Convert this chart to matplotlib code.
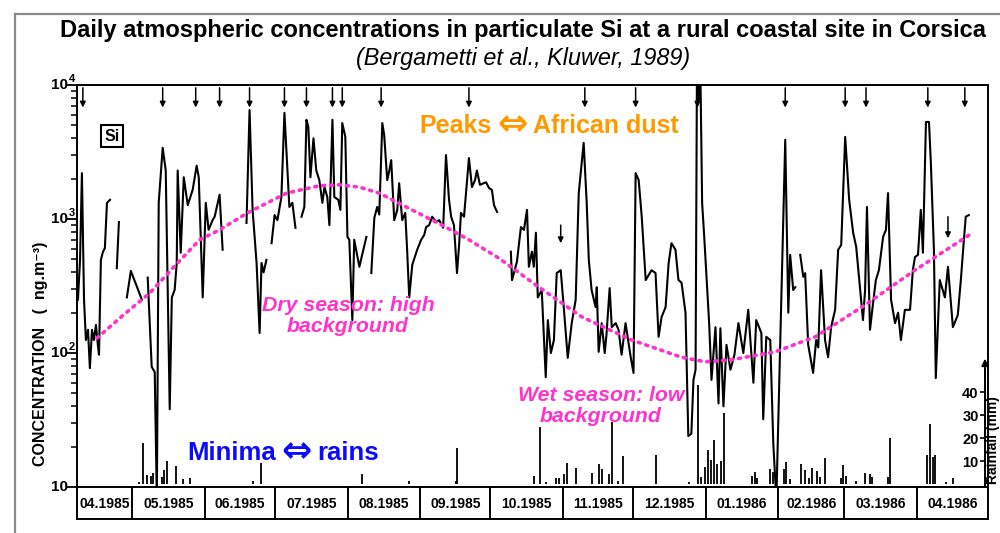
import numpy as np
import matplotlib
matplotlib.use('Agg')
import matplotlib.pyplot as plt
from matplotlib import font_manager as fm
from matplotlib.lines import Line2D
from matplotlib.transforms import blended_transform_factory as btf

plt.rcParams['font.family'] = ['Liberation Sans', 'DejaVu Sans']

nan = np.nan
# ---------------- data ----------------
# days counted from 1 April 1985 ; Si concentration in ng/m3
si_days = [6.8, 7.7, 8.5, 9.4, 10.2, 11.1, 11.9, 12.8, 13.6, 14.5, 15.3, 15.8, 16.6, 17.5, 18.3, 19.2, 20.5, nan,
           23.4, 24.3, nan,
           27.7, 29.4, 34.1, nan,
           36.6, 38.3, 39.6, 40.5, 41.3, 43.0, 44.3, 46.0, 46.9, 48.1, 49.0, 49.4, 50.7, 52.0, 53.7,
           55.8, 57.5, 58.4, 60.1, 61.4, 62.6, 64.3, 65.2, 67.3, 68.6, nan,
           78.8, 80.1, 81.4, 83.1, 84.4, 85.2, 86.1, 87.3, nan,
           89.5, 90.8, 92.0, 93.7, 95.0, 97.1, 98.4, 99.7, nan,
           102.3, 103.5, 104.4, 105.2, 106.1, 107.4, 108.6, 109.9, 111.2, 112.1, 113.3, 114.2, 115.5,
           116.3, 118.0, 118.9, 119.7, 121.0, 121.9, 122.7, 124.0, 124.8, 127.0, 128.7, 130.0, nan,
           132.1, 133.4, 134.6, 135.5, 136.8, 137.6, 138.9, 139.8, 140.6, 141.9, 143.2, 144.0, 145.3,
           146.6, 147.4, 148.3, 149.6, 151.7, 153.4, 154.7, 155.5, 156.8, 158.1, 159.8, 161.1, 162.8,
           164.0, 165.3, 166.2, 167.4, 168.7, 169.6, 170.4, 171.7, 173.8, 175.1, 176.4, 177.2, 178.5,
           181.1, 182.4, 183.6, 184.5, 185.8, nan,
           191.7, 192.2, 194.3, 196.0, 197.3, 198.6, 199.4, 200.7, 201.5, 202.4,
           203.2, 204.9, 206.6, 207.5, 208.8, 210.1, 211.3, 213.0, 214.3, 216.0,
           217.7, 219.4, 220.7, 222.8, 224.1, 225.0, 226.2, 227.9, 228.4, 229.2,
           230.5, 231.8, 232.6, 233.9, 234.8, 236.5, 237.7, 239.0, 240.7, 242.9,
           244.1, 245.0, 246.3, 247.6, 249.3, 250.5, 251.8, 253.5, 254.8, 256.1,
           257.8, 259.1, 260.3, 262.0, 263.3, 264.6, 266.3, 267.5, 268.8, 269.7,
           270.6, 271.2, 271.9, 272.6, 273.4, 274.3, 276.4, 277.4, 279.1, 280.4,
           281.2, 282.5, 283.8, 285.5, 287.2, 288.9,
           291.0, 293.1, 295.3, 296.5, 298.7, 299.5, 300.8, 302.5, 303.8, 305.1,
           308.9, 310.2, 311.0, 312.3, 313.2, nan,
           315.3, 316.6, 317.4, 318.7, 320.8, 322.1, 323.0, 324.2, 325.9, 327.2,
           328.5, 330.2, 331.5, 332.8, 334.5, 336.2, 337.9, 339.2, 340.9, 342.1,
           343.0, 343.8, 345.1, 346.4, 347.6, 348.9, 350.7, 351.9, 352.8, 354.1,
           355.8, 357.1, 358.3, 360.0, 362.2, 363.4, 364.3, 365.6, 366.8, 367.7,
           369.0, 370.3, 371.1, 372.4, 373.2, 374.9, 377.1, 378.4, 380.5, 382.6,
           383.9, 385.2, 386.0, 387.3]
si_vals = [250, 495, 2200, 250, 125, 149, 77, 149, 125, 162, 115, 97, 495, 570, 605, 1320, 1390, nan,
           430, 950, nan,
           260, 410, 250, nan,
           365, 79, 72, 8, 1320, 3400, 2300, 38, 260, 295, 470, 2300, 560, 2050, 1270,
           1650, 2500, 2050, 260, 1320, 830, 980, 1040, 1520, 590, nan,
           935, 6500, 1170, 470, 141, 470, 400, 495, nan,
           660, 1070, 980, 1460, 6200, 1230, 1320, 860, nan,
           1040, 1230, 5500, 4860, 2050, 4000, 2300, 1950, 1320, 1730, 1460, 900, 5500,
           1460, 1390, 1170, 5200, 4100, 735, 700, 176, 700, 440, 590, 735, nan,
           395, 1020, 1230, 1080, 5200, 4240, 1950, 2300, 2750, 980, 1170, 1850, 980,
           1110, 590, 260, 455, 590, 700, 760, 870, 900, 1040, 950, 980, 860,
           3000, 1390, 1040, 900, 395, 640, 1110, 1040, 2850, 1730, 1950, 2300, 1800,
           1880, 1700, 1650, 1270, 1130, nan,
           570, 350, 480, 870, 830, 1170, 440, 570, 440, 790,
           260, 295, 66, 176, 100, 125, 395, 415, 220, 92,
           167, 250, 1560, 3700, 1320, 495, 295, 220, 310, 102,
           167, 100, 141, 305, 156, 167, 149, 97, 167, 93,
           71, 2200, 1950, 1040, 350, 380, 415, 395, 132, 186,
           220, 470, 660, 590, 350, 335, 200, 24, 25, 63,
           75, 15000, 7700, 15000, 1320, 735, 167, 63, 156, 42,
           153, 40, 115, 75, 97, 167,
           100, 210, 60, 176, 141, 32, 132, 125, 21, 8,
           3900, 200, 540, 295, 310, nan,
           540, 370, 395, 115, 71, 125, 110, 415, 125, 93,
           156, 210, 590, 640, 4100, 1390, 790, 620, 295, 176,
           295, 1230, 149, 235, 350, 415, 735, 830, 1560, 250,
           167, 200, 125, 210, 210, 415, 520, 540, 1170, 560,
           5300, 5300, 2600, 590, 65, 350, 260, 440, 156, 192,
           350, 700, 1040, 1070]

# seasonal background (hand-drawn dotted curve)
bg_days = [14.9, 26.2, 37.5, 48.1, 58.8, 67.3, 79.2, 95.9, 109.9, 118.4,
           127.0, 135.5, 147.0, 162.3, 173.8, 186.6, 203.7, 222.0, 243.3, 264.6,
           274.8, 285.9, 304.6, 321.7, 343.0, 364.3, 389.0]
bg_vals = [129, 192, 280, 445, 700, 830, 1110, 1560, 1770, 1800,
           1730, 1560, 1230, 900, 700, 510, 310, 186, 125, 93,
           86, 89, 102, 132, 228, 415, 790]

# daily rainfall (mm)
rain_days = [32.8, 34.5, 36.2, 37.9, 38.8, 42.6, 43.5, 44.7, 48.6, 51.6,
             54.5, 81.4, 84.8, 128.2, 148.3, 168.3, 168.9, 201.5, 204.1, 206.6,
             210.9, 212.2, 214.3, 215.6, 219.4, 226.2, 229.2, 230.5, 233.5, 234.8,
             237.3, 239.5, 253.9, 268.0, 271.8, 273.1, 274.8, 275.7, 277.0, 278.6,
             279.9, 281.6, 282.9, 294.8, 296.1, 297.0, 302.5, 303.8, 308.5, 309.3,
             311.0, 315.7, 317.4, 319.1, 320.4, 322.5, 323.8, 326.0, 332.8, 333.6,
             334.9, 339.2, 343.0, 345.1, 346.0, 352.8, 353.7, 369.4, 370.7, 372.0,
             372.8, 377.5, 380.5]
rain_mm = [1, 17.7, 4, 3.6, 4.6, 2.9, 6.2, 9.9, 7.7, 2.2,
           2.5, 1.3, 9, 4.5, 1.3, 1.3, 15.5, 3.5, 25, 1,
           2.5, 2.5, 4.3, 9, 7, 5, 8.7, 6.5, 4.3, 27,
           1.3, 12, 12.6, 1, 43, 3, 7.4, 15, 10.4, 19,
           8.7, 10, 31, 3.5, 5.2, 2.6, 6.5, 5.2, 6.5, 9.6,
           2.2, 8.7, 6, 2.6, 7, 5.6, 3, 11.3, 2.6, 8.3,
           3.5, 1.3, 4.8, 4.3, 3, 3, 20, 12.6, 26, 11.7,
           12.6, 1, 2.6]

# African dust events (arrows)
dust_days = [8.9, 43.0, 57.1, 67.3, 80.1, 95.0, 104.4, 115.5, 119.7, 136.3,
             173.8, 223.3, 245.0, 271.4, 308.9, 334.5, 343.4, 369.8, 385.6]
low_arrow_days = [213.0, 378.4]
low_arrow_top = [900, 1040]
low_arrow_tip = [660, 720]

month_starts = [30, 61, 91, 122, 153, 183, 214, 244, 275, 306, 334, 365]
month_labels = ['04.1985', '05.1985', '06.1985', '07.1985', '08.1985', '09.1985', '10.1985',
                '11.1985', '12.1985', '01.1986', '02.1986', '03.1986', '04.1986']
xmin, xmax = 6.4, 395.5

ytick_vals = [10, 100, 1000, 10000]
ytick_base = ['10', '10', '10', '10']
ytick_exp = ['', '2', '3', '4']
rain_ticks = [10, 20, 30, 40]

title = 'Daily atmospheric concentrations in particulate Si at a rural coastal site in Corsica'
subtitle = '(Bergametti et al., Kluwer, 1989)'

MAG = '#ff33cc'
ORANGE = '#ff9900'
BLUE = '#0a0aff'
ARROW = '\u21d4'

# ---------------- figure ----------------
W, H = 1000, 533
fig = plt.figure(figsize=(W / 100, H / 100), dpi=100)
def fx(px): return px / W
def fy(py): return 1 - py / H

ax = fig.add_axes([fx(77), fy(487), (988 - 77) / W, (487 - 85) / H])
ax.set_yscale('log')
ax.set_ylim(10, 1e4)
ax.set_xlim(xmin, xmax)
ax.set_xticks([])
ax.set_yticks(ytick_vals)
ax.set_yticklabels([])
ax.yaxis.set_minor_locator(matplotlib.ticker.LogLocator(base=10, subs=np.arange(2, 10)))
ax.yaxis.set_minor_formatter(matplotlib.ticker.NullFormatter())
ax.tick_params(axis='y', which='major', direction='out', length=7, width=1.3)
ax.tick_params(axis='y', which='minor', direction='out', length=4.5, width=1.1)
for s in ax.spines.values():
    s.set_linewidth(1.4)

ax.plot(si_days, si_vals, color='black', lw=1.5)
ax.plot(bg_days, bg_vals, color=MAG, lw=2.6, linestyle=(0, (0.6, 1.6)),
        dash_capstyle='round', zorder=3)

ytf = ax.get_yaxis_transform()
for v, b, e in zip(ytick_vals, ytick_base, ytick_exp):
    ax.annotate(b, xy=(0, v), xycoords=ytf, xytext=(-6.5, 0), textcoords='offset points',
                ha='right', va='center', fontsize=11, fontweight='bold')
    if e:
        ax.annotate(e, xy=(0, v), xycoords=ytf, xytext=(-6.0, 4.0), textcoords='offset points',
                    ha='left', va='center', fontsize=8, fontweight='bold')

xtf = ax.get_xaxis_transform()
for d in dust_days:
    ax.annotate('', xy=(d, 0.944), xytext=(d, 0.993), xycoords=xtf,
                arrowprops=dict(arrowstyle='-|>', color='black', lw=1.1, mutation_scale=8,
                                shrinkA=0, shrinkB=0))
for d, t0, t1 in zip(low_arrow_days, low_arrow_top, low_arrow_tip):
    ax.annotate('', xy=(d, t1), xytext=(d, t0),
                arrowprops=dict(arrowstyle='-|>', color='black', lw=1.1, mutation_scale=8,
                                shrinkA=0, shrinkB=0))

ax.text(0.0385, 0.873, 'Si', transform=ax.transAxes, ha='center', va='center', fontsize=11.5,
        fontweight='bold', bbox=dict(boxstyle='square,pad=0.22', fc='white', ec='black', lw=1.5))

# ---------------- rainfall ----------------
axr = ax.twinx()
axr.set_ylim(-1.3, 173.5)
axr.vlines(rain_days, 0, rain_mm, color='black', lw=1.3)
for k in ['top', 'right', 'bottom']:
    axr.spines[k].set_visible(False)
rx = (985 - 77) / (988 - 77)
axr.spines['left'].set_position(('axes', rx))
axr.spines['left'].set_bounds(-1.3, 50)
axr.spines['left'].set_linewidth(1.4)
axr.yaxis.set_ticks_position('left')
axr.yaxis.set_label_position('left')
axr.set_yticks(rain_ticks)
axr.set_yticklabels([str(t) for t in rain_ticks], fontsize=10.5, fontweight='bold')
axr.tick_params(axis='y', direction='out', length=3.5, width=1.2, pad=1)
axr.annotate('', xy=(rx, 54.5), xytext=(rx, 46),
             xycoords=btf(axr.transAxes, axr.transData),
             arrowprops=dict(arrowstyle='-|>', color='black', lw=1.3, mutation_scale=10,
                             shrinkA=0, shrinkB=0))

# ---------------- month boxes ----------------
axm = fig.add_axes([fx(77), fy(519), (988 - 77) / W, (519 - 487) / H])
axm.set_xlim(xmin, xmax)
axm.set_ylim(0, 1)
axm.set_xticks([])
axm.set_yticks([])
for s in axm.spines.values():
    s.set_linewidth(1.4)
axm.vlines(month_starts, 0, 1, color='black', lw=1.4)
edges = [xmin] + month_starts + [xmax]
for i, lab in enumerate(month_labels):
    axm.text((edges[i] + edges[i + 1]) / 2, 0.48, lab, ha='center', va='center',
             fontsize=10, fontweight='bold')

# ---------------- texts ----------------
fig.text(fx(41), fy(354), 'CONCENTRATION   (  ng.m\u207b\u00b3)', rotation=90, ha='center',
         va='center', fontsize=11.5, fontweight='bold')
fig.text(fx(993.5), fy(440), 'Rainfall (mm)', rotation=90, ha='center', va='center',
         fontsize=10, fontweight='bold')

# "Peaks <=> African dust"
fig.text(fx(492), fy(126), 'Peaks', color=ORANGE, ha='right', va='center',
         fontsize=18, fontweight='bold')
fig.text(fx(512), fy(125), ARROW, color=ORANGE, ha='center', va='center',
         fontsize=26, fontweight='bold', family='DejaVu Sans')
fig.text(fx(533), fy(126), 'African dust', color=ORANGE, ha='left', va='center',
         fontsize=18, fontweight='bold')
# "Minima <=> rains"
fig.text(fx(276), fy(453), 'Minima', color=BLUE, ha='right', va='center',
         fontsize=18.5, fontweight='bold')
fig.text(fx(296), fy(452), ARROW, color=BLUE, ha='center', va='center',
         fontsize=26, fontweight='bold', family='DejaVu Sans')
fig.text(fx(317), fy(453), 'rains', color=BLUE, ha='left', va='center',
         fontsize=18.5, fontweight='bold')

fig.text(fx(348), fy(316), 'Dry season: high\nbackground', color=MAG, ha='center', va='center',
         fontsize=15.3, fontweight='bold', style='italic', linespacing=1.1)
fig.text(fx(601), fy(406), 'Wet season: low\nbackground', color=MAG, ha='center', va='center',
         fontsize=15.3, fontweight='bold', style='italic', linespacing=1.1)

# title: narrow font if available
tfam = ['Liberation Sans', 'DejaVu Sans']
try:
    fm.findfont(fm.FontProperties(family='Liberation Sans Narrow'), fallback_to_default=False)
    tfam = ['Liberation Sans Narrow', 'Liberation Sans', 'DejaVu Sans']
except Exception:
    pass
t = fig.text(fx(523), fy(31), title, ha='center', va='center', fontsize=16, fontweight='bold',
             family=tfam)
st = fig.text(fx(523), fy(58), subtitle, ha='center', va='center', fontsize=14, style='italic',
              family=tfam)
fig.canvas.draw()
t.set_fontsize(16 * 923 / t.get_window_extent().width)
st.set_fontsize(14 * 335 / st.get_window_extent().width)

# slide frame
fig.add_artist(Line2D([fx(15), fx(15)], [fy(14), 0], color='#8a8a8a', lw=1.6))
fig.add_artist(Line2D([fx(15), 1], [fy(14), fy(14)], color='#8a8a8a', lw=1.6))

fig.savefig('out.png', dpi=100)
